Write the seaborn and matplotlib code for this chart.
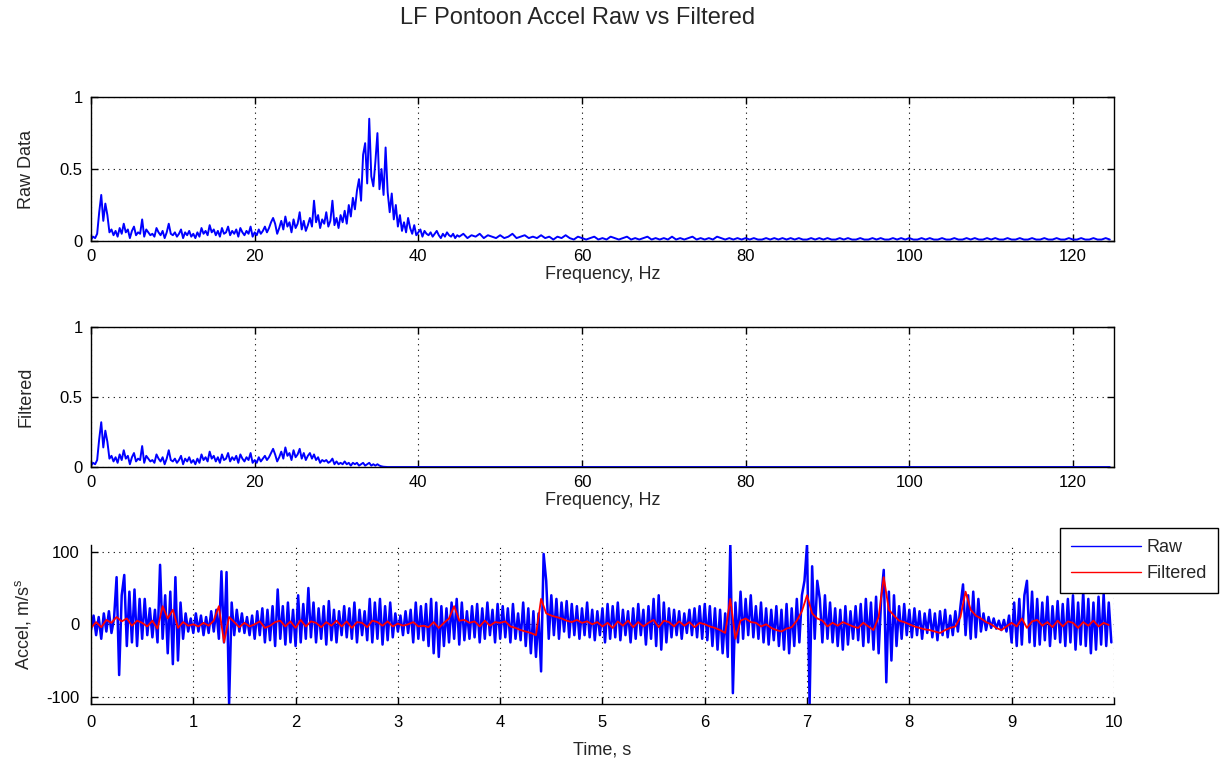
import numpy as np
import matplotlib
matplotlib.use("Agg")
import matplotlib.pyplot as plt
import seaborn as sns

# spectrum magnitudes, 0.25 Hz bins from 0 to 44.75 Hz
raw_fft_low = [
    0.01, 0.03, 0.02, 0.05, 0.20, 0.32, 0.14, 0.26, 0.18, 0.06,
    0.08, 0.04, 0.07, 0.03, 0.09, 0.05, 0.12, 0.06, 0.08, 0.02,
    0.07, 0.10, 0.04, 0.06, 0.05, 0.15, 0.03, 0.08, 0.06, 0.04,
    0.05, 0.03, 0.09, 0.06, 0.04, 0.07, 0.02, 0.06, 0.12, 0.05,
    0.04, 0.06, 0.03, 0.05, 0.08, 0.02, 0.06, 0.04, 0.07, 0.03,
    0.05, 0.02, 0.06, 0.03, 0.09, 0.05, 0.07, 0.04, 0.11, 0.06,
    0.08, 0.04, 0.07, 0.03, 0.09, 0.05, 0.06, 0.10, 0.04, 0.07,
    0.05, 0.08, 0.03, 0.09, 0.06, 0.04, 0.07, 0.05, 0.10, 0.03,
    0.06, 0.04, 0.08, 0.05, 0.07, 0.10, 0.06, 0.09, 0.13, 0.16,
    0.12, 0.05, 0.09, 0.14, 0.08, 0.17, 0.10, 0.13, 0.06, 0.15,
    0.09, 0.12, 0.20, 0.08, 0.14, 0.07, 0.11, 0.16, 0.10, 0.28,
    0.13, 0.18, 0.09, 0.15, 0.12, 0.20, 0.10, 0.14, 0.28, 0.11,
    0.16, 0.09, 0.18, 0.13, 0.21, 0.12, 0.25, 0.17, 0.30, 0.22,
    0.35, 0.43, 0.28, 0.60, 0.68, 0.40, 0.85, 0.45, 0.38, 0.55,
    0.75, 0.36, 0.50, 0.32, 0.65, 0.34, 0.20, 0.33, 0.15, 0.25,
    0.10, 0.18, 0.07, 0.13, 0.06, 0.16, 0.09, 0.05, 0.11, 0.04,
    0.06, 0.08, 0.03, 0.07, 0.05, 0.04, 0.06, 0.03, 0.05, 0.07,
    0.04, 0.02, 0.05, 0.03, 0.06, 0.04, 0.03, 0.05, 0.02, 0.04,
]
# 0.5 Hz bins from 45 to 124.5 Hz
raw_fft_high = [
    0.03, 0.05, 0.02, 0.04, 0.03, 0.05, 0.02, 0.04, 0.03, 0.02,
    0.04, 0.02, 0.03, 0.05, 0.02, 0.03, 0.04, 0.02, 0.03, 0.02,
    0.04, 0.02, 0.03, 0.01, 0.03, 0.02, 0.04, 0.02, 0.01, 0.03,
    0.02, 0.01, 0.02, 0.03, 0.01, 0.02, 0.01, 0.03, 0.02, 0.01,
    0.02, 0.03, 0.01, 0.02, 0.01, 0.02, 0.03, 0.01, 0.02, 0.01,
    0.02, 0.01, 0.03, 0.01, 0.02, 0.01, 0.02, 0.03, 0.01, 0.02,
    0.01, 0.02, 0.01, 0.03, 0.02, 0.01, 0.02, 0.01, 0.02, 0.01,
    0.02, 0.01, 0.02, 0.01, 0.01, 0.02, 0.01, 0.02, 0.01, 0.02,
    0.01, 0.02, 0.01, 0.02, 0.01, 0.01, 0.02, 0.01, 0.02, 0.01,
    0.02, 0.01, 0.01, 0.02, 0.01, 0.02, 0.01, 0.01, 0.02, 0.01,
    0.01, 0.02, 0.01, 0.02, 0.01, 0.01, 0.02, 0.01, 0.02, 0.01,
    0.02, 0.01, 0.01, 0.02, 0.01, 0.02, 0.01, 0.01, 0.02, 0.01,
    0.01, 0.02, 0.01, 0.01, 0.02, 0.01, 0.02, 0.01, 0.01, 0.02,
    0.01, 0.02, 0.01, 0.01, 0.02, 0.01, 0.01, 0.02, 0.01, 0.01,
    0.02, 0.01, 0.01, 0.02, 0.01, 0.01, 0.02, 0.01, 0.01, 0.02,
    0.01, 0.01, 0.02, 0.01, 0.01, 0.02, 0.01, 0.01, 0.02, 0.01,
]
filt_fft_low = [
    0.01, 0.03, 0.02, 0.05, 0.20, 0.32, 0.14, 0.26, 0.18, 0.06,
    0.08, 0.04, 0.07, 0.03, 0.09, 0.05, 0.12, 0.06, 0.08, 0.02,
    0.07, 0.10, 0.04, 0.06, 0.05, 0.15, 0.03, 0.08, 0.06, 0.04,
    0.05, 0.03, 0.09, 0.06, 0.04, 0.07, 0.02, 0.06, 0.12, 0.05,
    0.04, 0.06, 0.03, 0.05, 0.08, 0.02, 0.06, 0.04, 0.07, 0.03,
    0.05, 0.02, 0.06, 0.03, 0.09, 0.05, 0.07, 0.04, 0.11, 0.06,
    0.08, 0.04, 0.07, 0.03, 0.09, 0.05, 0.06, 0.10, 0.04, 0.07,
    0.05, 0.08, 0.03, 0.09, 0.06, 0.04, 0.07, 0.05, 0.10, 0.03,
    0.05, 0.03, 0.07, 0.04, 0.06, 0.08, 0.05, 0.07, 0.10, 0.13,
    0.09, 0.04, 0.07, 0.11, 0.06, 0.14, 0.08, 0.10, 0.05, 0.12,
    0.07, 0.09, 0.13, 0.06, 0.10, 0.05, 0.08, 0.10, 0.06, 0.09,
    0.05, 0.07, 0.03, 0.05, 0.04, 0.05, 0.03, 0.04, 0.06, 0.02,
    0.04, 0.02, 0.03, 0.02, 0.04, 0.02, 0.03, 0.01, 0.03, 0.02,
    0.03, 0.01, 0.02, 0.03, 0.01, 0.02, 0.03, 0.01, 0.02, 0.01,
    0.02, 0.01, 0.005, 0.002, 0.001, 0.0, 0.0, 0.0, 0.0, 0.0,
    0.0, 0.0, 0.0, 0.0, 0.0, 0.0, 0.0, 0.0, 0.0, 0.0,
    0.0, 0.0, 0.0, 0.0, 0.0, 0.0, 0.0, 0.0, 0.0, 0.0,
    0.0, 0.0, 0.0, 0.0, 0.0, 0.0, 0.0, 0.0, 0.0, 0.0,
]
filt_fft_high = [0.0] * 160

# time history, raw every 0.025 s, filtered every 0.05 s (m/s^2)
raw_accel = [
    -8, 12, -15, 10, -20, 15, -10, 18, -12, 8,
    65, -70, 40, 68, -30, 45, -25, 48, -30, 35,
    -20, 35, -15, 22, -18, 20, -25, 82, -20, 40,
    -40, 45, -55, 65, -50, 30, -20, 15, -10, 8,
    -12, 15, -10, 12, -15, 10, -12, 18, -10, 20,
    -20, 73, -25, 72, -110, 30, -15, 20, -10, 15,
    -12, 10, -15, 12, -20, 18, -15, 22, -25, 20,
    -22, 25, -30, 48, -20, 25, -28, 30, -25, 20,
    -30, 40, -25, 28, -20, 50, -18, 30, -25, 22,
    -20, 25, -28, 32, -22, 20, -25, 18, -15, 25,
    -18, 22, -20, 30, -25, 20, -15, 18, -22, 35,
    -25, 30, -20, 35, -28, 25, -22, 30, -18, 15,
    -10, 12, -15, 18, -12, 20, -25, 30, -20, 25,
    -22, 28, -30, 35, -40, 30, -45, 25, -30, 22,
    -25, 30, -20, 35, -28, 30, -22, 18, -20, 25,
    -18, 28, -25, 22, -20, 30, -15, 20, -25, 28,
    -20, 25, -18, 22, -25, 28, -20, 15, -22, 30,
    -30, 22, -40, 18, -45, 15, -65, 97, 60, -20,
    40, -15, 35, -20, 30, -10, 32, -18, 28, -15,
    25, -20, 22, -15, 30, -18, 20, -22, 18, -15,
    22, -25, 28, -20, 25, -18, 30, -22, 20, -15,
    18, -25, 22, -20, 28, -15, 20, -28, 25, -20,
    35, -30, 40, -35, 30, -25, 22, -18, 20, -15,
    18, -20, 15, -12, 20, -15, 22, -18, 25, -20,
    28, -22, 25, -30, 22, -35, 20, -40, 15, -45,
    110, -95, 30, -25, 45, -20, 35, -15, 40, -18,
    25, -20, 30, -25, 22, -28, 20, -22, 25, -30,
    20, -35, 28, -40, 22, -30, 35, -25, 40, 60,
    110, -110, 80, -20, 60, 35, -25, 40, -20, 30,
    -25, 22, -30, 20, -35, 25, -28, 18, -20, 25,
    -22, 28, -30, 35, -25, 30, -35, 38, -40, 35,
    75, -80, 45, -50, 40, -30, 25, -20, 28, -15,
    20, -18, 22, -15, 18, -20, 15, -12, 20, -18,
    15, -22, 18, -15, 20, -18, 12, -15, 18, -10,
    25, 55, -15, 40, -20, 45, -18, 35, -10, 15,
    -8, 10, -5, 8, -6, 5, -8, 6, -10, 12,
    -25, 30, -30, 35, -28, 40, 60, -25, 45, -30,
    35, -28, 30, -22, 38, -30, 25, -20, 32, -25,
    28, -30, 35, -25, 40, -35, 30, -28, 45, -30,
    35, -40, 30, -35, 38, -28, 42, -30, 30, -25,
]
filt_accel = [
    -5, 3, -4, 6, 2, 10, 4, 8, -2, 5,
    2, -3, 5, -6, 25, 8, 20, -5, 3, -2,
    0, -3, 2, -2, 5, 25, -25, 10, 3, -4,
    2, -3, 0, 4, -5, -2, 3, 5, -3, 4,
    -5, 6, -3, 4, 2, -4, 3, -2, 5, -3,
    4, -5, 3, 2, -4, 5, 3, -2, 4, -3,
    1, -2, 0, 3, -3, -2, -4, 3, -5, 2,
    8, 25, 5, 6, 2, 4, -3, 5, -2, 3,
    2, 4, -3, -5, -8, -10, -12, -15, 35, 15,
    12, 10, 8, 5, 3, 6, 2, 4, 0, 3,
    -3, 2, -5, 4, -2, 5, -4, 3, -3, 2,
    6, -4, 5, 3, -3, 4, -2, 3, -4, 2,
    0, -3, -5, -8, -12, 35, -20, 5, 8, 3,
    2, -3, 0, -5, -8, -10, -6, -4, 5, 18,
    40, 15, 8, 5, -3, 2, -2, 3, 0, -3,
    -5, 2, -3, -8, 10, 65, 20, 12, 5, 3,
    0, -3, -5, -7, -8, -10, -12, -8, -5, -3,
    10, 45, 20, 12, 8, 3, 0, -5, -8, -3,
    2, -3, 8, -5, 4, 6, -2, 3, -4, 5,
    -3, 4, 2, -5, 3, -2, 5, -3, 2, -1,
]

freq = np.concatenate([np.arange(len(raw_fft_low)) * 0.25,
                       45 + np.arange(len(raw_fft_high)) * 0.5])
raw_fft = np.array(raw_fft_low + raw_fft_high)
filt_fft = np.array(filt_fft_low + filt_fft_high)
t_raw = np.arange(len(raw_accel)) * 0.025
t_filt = np.arange(len(filt_accel)) * 0.05

sns.set_theme(style="white")
plt.rcParams['font.family'] = ['Liberation Sans', 'DejaVu Sans']
plt.rcParams['mathtext.default'] = 'regular'
plt.rcParams['axes.unicode_minus'] = False

fig = plt.figure(figsize=(12.25, 7.65), dpi=100)
grid_kw = dict(color='black', linestyle=(0, (1, 4)), linewidth=0.8)
fs = 12
lab_fs = 13


def style_axes(ax, box=True, pad=6):
    for side in ['left', 'bottom', 'top', 'right']:
        ax.spines[side].set_visible(box or side in ('left', 'bottom'))
        ax.spines[side].set_color('black')
        ax.spines[side].set_linewidth(1.0)
    ax.tick_params(direction='in', length=5, width=1, colors='black',
                   labelsize=fs, pad=pad, top=box, right=box,
                   bottom=True, left=True)
    ax.grid(True, **grid_kw)


ax1 = fig.add_axes([0.0743, 0.685, 0.835, 0.188])
sns.lineplot(x=freq, y=raw_fft, ax=ax1, color='#0000ff', linewidth=1.4)
ax1.set_xlim(0, 125)
ax1.set_ylim(0, 1)
ax1.set_xticks([0, 20, 40, 60, 80, 100, 120])
ax1.set_yticks([0, 0.5, 1])
ax1.set_yticklabels(['0', '0.5', '1'])
ax1.set_xlabel('Frequency, Hz', fontsize=lab_fs, labelpad=1)
ax1.set_ylabel('Raw Data', fontsize=lab_fs, labelpad=18)
style_axes(ax1)

ax2 = fig.add_axes([0.0743, 0.3895, 0.835, 0.183])
sns.lineplot(x=freq, y=filt_fft, ax=ax2, color='#0000ff', linewidth=1.4)
ax2.set_xlim(0, 125)
ax2.set_ylim(0, 1)
ax2.set_xticks([0, 20, 40, 60, 80, 100, 120])
ax2.set_yticks([0, 0.5, 1])
ax2.set_yticklabels(['0', '0.5', '1'])
ax2.set_xlabel('Frequency, Hz', fontsize=lab_fs, labelpad=1)
ax2.set_ylabel('Filtered', fontsize=lab_fs, labelpad=18)
style_axes(ax2)

ax3 = fig.add_axes([0.0743, 0.0797, 0.835, 0.2085])
sns.lineplot(x=t_raw, y=raw_accel, ax=ax3, color='#0000ff', linewidth=1.8, label='Raw')
sns.lineplot(x=t_filt, y=filt_accel, ax=ax3, color='#ff0000', linewidth=1.3, label='Filtered')
ax3.set_xlim(0, 10)
ax3.set_ylim(-110, 110)
ax3.set_xticks(range(0, 11))
ax3.set_yticks([-100, 0, 100])
ax3.set_xlabel('Time, s', fontsize=lab_fs, labelpad=8)
ax3.set_ylabel(r'Accel, m/s$^s$', fontsize=lab_fs, labelpad=10)
style_axes(ax3, box=False, pad=8)
leg = ax3.legend(loc='upper right', bbox_to_anchor=(1218 / 1225, 1 - 528 / 765),
                 bbox_transform=fig.transFigure, fontsize=lab_fs, frameon=True,
                 fancybox=False, edgecolor='black', framealpha=1, borderaxespad=0,
                 handlelength=3.9, borderpad=0.6, labelspacing=0.5, handletextpad=0.3)
leg.get_frame().set_linewidth(1.0)
for line in leg.get_lines():
    line.set_linewidth(1.0)

fig.text(578 / 1225, 1 - 18 / 765, 'LF Pontoon Accel Raw vs Filtered',
         ha='center', va='center', fontsize=17)

fig.savefig('out.png', dpi=100, facecolor='white')
